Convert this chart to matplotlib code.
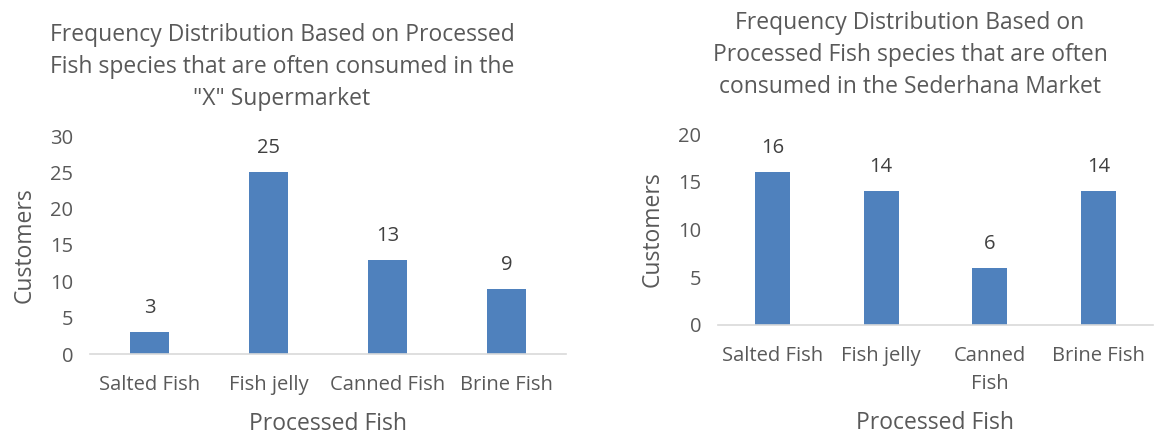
import numpy as np
import matplotlib.pyplot as plt

# datos
categorias_x = ['Salted Fish', 'Fish jelly', 'Canned Fish', 'Brine Fish']
clientes_x = [3, 25, 13, 9]

categorias_sed = ['Salted Fish', 'Fish jelly', 'Canned\nFish', 'Brine Fish']
clientes_sed = [16, 14, 6, 14]

titulo_x = 'Frequency Distribution Based on Processed\nFish species that are often consumed in the\n"X" Supermarket'
titulo_sed = 'Frequency Distribution Based on\nProcessed Fish species that are often\nconsumed in the Sederhana Market'

color_barra = '#4F81BD'
color_texto = '#595959'
plt.rcParams['font.family'] = ['Open Sans', 'DejaVu Sans']
plt.rcParams['text.color'] = color_texto

fig = plt.figure(figsize=(11.61, 4.34), dpi=100)
W, H = 1161, 434


def dibujar(rect, cats, vals, ymax, paso):
    x0, x1, ytop, ybase = rect
    ax = fig.add_axes([x0 / W, (H - ybase) / H, (x1 - x0) / W, (ybase - ytop) / H])
    pos = np.arange(len(cats))
    ax.bar(pos, vals, width=0.32, color=color_barra)
    for p, v in zip(pos, vals):
        ax.annotate(str(v), (p, v), xytext=(0, 10), textcoords='offset points',
                    ha='center', va='bottom', fontsize=14.5, color='#404040')
    ax.set_xlim(-0.5, len(cats) - 0.5)
    ax.set_ylim(0, ymax)
    ax.set_yticks(np.arange(0, ymax + 1, paso))
    ax.set_xticks(pos)
    ax.set_xticklabels(cats, linespacing=1.55)
    ax.tick_params(length=0, labelsize=14.5, labelcolor=color_texto)
    ax.tick_params(axis='x', pad=15)
    ax.tick_params(axis='y', pad=12)
    for s in ['top', 'right', 'left']:
        ax.spines[s].set_visible(False)
    ax.spines['bottom'].set_color('#D9D9D9')
    ax.spines['bottom'].set_linewidth(1.2)
    ax.set_xlabel('Processed Fish', fontsize=16.5, color=color_texto, labelpad=12)
    ax.set_ylabel('Customers', fontsize=16.5, color=color_texto, labelpad=10)
    return ax


dibujar((90, 566, 136, 354), categorias_x, clientes_x, 30, 5)
dibujar((718, 1153, 134, 325), categorias_sed, clientes_sed, 20, 5)

fig.text(282 / W, 1 - 23 / H, titulo_x, ha='center', va='top', fontsize=16.5,
         linespacing=1.45, color=color_texto)
fig.text(910 / W, 1 - 11 / H, titulo_sed, ha='center', va='top', fontsize=16.5,
         linespacing=1.45, color=color_texto)

fig.savefig('out.png', dpi=100)
